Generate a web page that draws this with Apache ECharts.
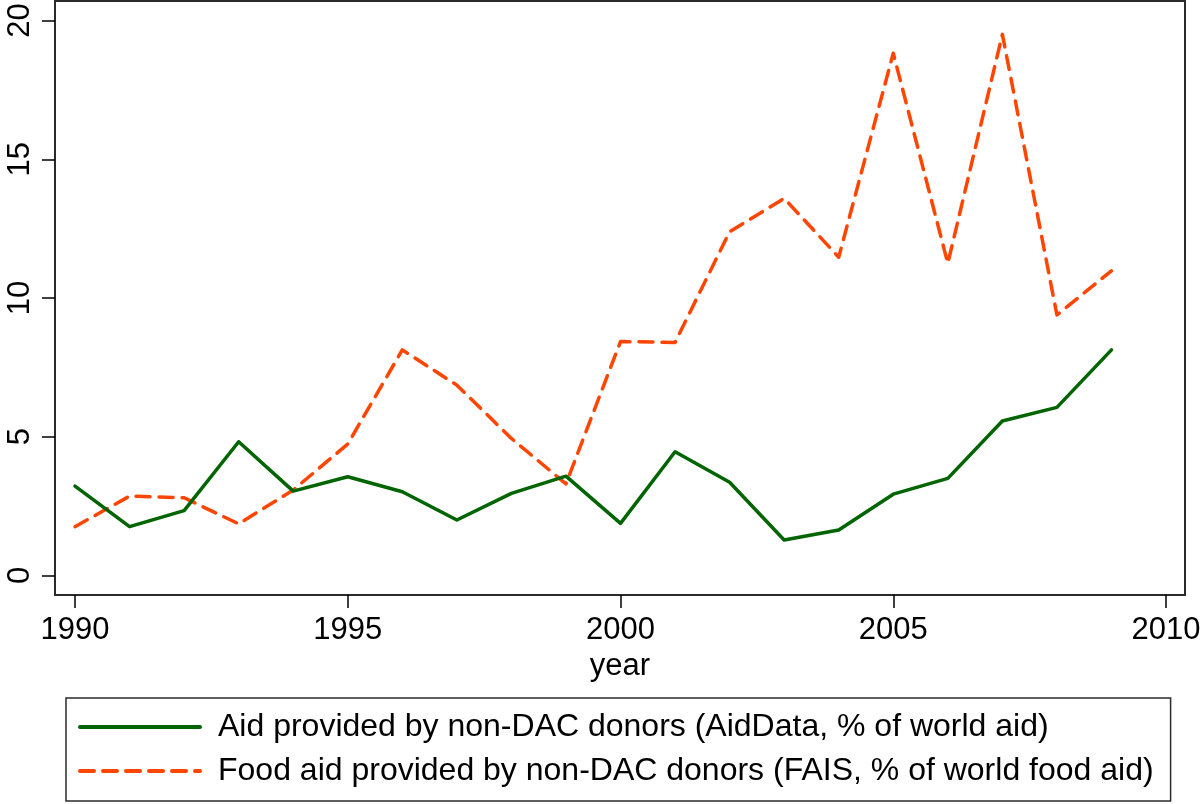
<!DOCTYPE html>
<html>
<head>
<meta charset="utf-8">
<title>Aid by non-DAC donors</title>
<script src="https://cdn.jsdelivr.net/npm/echarts@6/dist/echarts.min.js"></script>
<style>
  html, body { margin: 0; padding: 0; background: #ffffff; }
  #chart { width: 1204px; height: 804px; }
</style>
</head>
<body>
<div id="chart"></div>
<script>
// Share of aid from non-DAC donors, 1990-2009 (percent)
const years = [1990, 1991, 1992, 1993, 1994, 1995, 1996, 1997, 1998, 1999,
               2000, 2001, 2002, 2003, 2004, 2005, 2006, 2007, 2008, 2009];
const aidShare = [3.22, 1.76, 2.34, 4.82, 3.04, 3.56, 3.02, 2.00, 2.96, 3.58,
                  1.88, 4.46, 3.36, 1.28, 1.64, 2.93, 3.50, 5.57, 6.06, 8.13];
const foodAidShare = [1.76, 2.86, 2.80, 1.86, 3.08, 4.74, 8.13, 6.86, 4.94, 3.30,
                      8.43, 8.40, 12.39, 13.59, 11.47, 18.82, 11.25, 19.50, 9.39, 10.98];
const xTicks = [1990, 1995, 2000, 2005, 2010];
const yTicks = [0, 5, 10, 15, 20];
const seriesNames = [
  'Aid provided by non-DAC donors (AidData, % of world aid)',
  'Food aid provided by non-DAC donors (FAIS, % of world food aid)'
];

const FONT = '"Liberation Sans", Arial, Helvetica, sans-serif';
const INK = '#000000';
const FRAME = '#2b2b2b';

const chart = echarts.init(document.getElementById('chart'), null, { renderer: 'canvas' });

const pairs = (xs, ys) => xs.map((x, i) => [x, ys[i]]);

chart.setOption({
  animation: false,
  backgroundColor: '#ffffff',
  grid: {
    show: true,
    left: 55, right: 19, top: 1, bottom: 209,
    borderColor: FRAME,
    borderWidth: 2,
    backgroundColor: '#ffffff'
  },
  xAxis: {
    type: 'value',
    min: 1989.633,
    max: 2010.348,
    name: 'year',
    nameLocation: 'middle',
    nameGap: 46,
    nameTextStyle: { fontFamily: FONT, fontSize: 31, color: INK },
    axisLine: { show: false, onZero: false },
    splitLine: { show: false },
    axisTick: {
      show: true, length: 13, customValues: xTicks,
      lineStyle: { color: INK, width: 1.5 }
    },
    axisLabel: {
      show: true, customValues: xTicks, margin: 20,
      fontFamily: FONT, fontSize: 31, color: INK,
      formatter: v => String(v)
    }
  },
  yAxis: {
    type: 'value',
    min: -0.703,
    max: 20.703,
    axisLine: { show: false, onZero: false },
    splitLine: { show: false },
    axisTick: {
      show: true, length: 13, customValues: yTicks,
      lineStyle: { color: INK, width: 1.5 }
    },
    axisLabel: {
      show: true, customValues: yTicks, margin: 19, rotate: 90,
      fontFamily: FONT, fontSize: 31, color: INK,
      formatter: v => String(v)
    }
  },
  legend: {
    show: true,
    orient: 'vertical',
    left: 66,
    top: 698,
    padding: [13, 17, 14, 12],
    itemGap: 12,
    itemWidth: 120,
    itemHeight: 14,
    borderColor: FRAME,
    borderWidth: 1.5,
    backgroundColor: '#ffffff',
    itemStyle: { opacity: 0 },
    lineStyle: { width: 4 },
    textStyle: {
      fontFamily: FONT, fontSize: 32, color: INK,
      padding: [0, 0, 0, 13]
    },
    data: seriesNames
  },
  series: [
    {
      name: seriesNames[0],
      type: 'line',
      data: pairs(years, aidShare),
      symbol: 'none',
      showSymbol: false,
      lineStyle: { color: '#006400', width: 3.5, cap: 'round', join: 'round' },
      itemStyle: { color: '#006400' },
      z: 3
    },
    {
      name: seriesNames[1],
      type: 'line',
      data: pairs(years, foodAidShare),
      symbol: 'none',
      showSymbol: false,
      lineStyle: {
        color: '#FF4500', width: 3.5, type: [14, 9], cap: 'round', join: 'round'
      },
      itemStyle: { color: '#FF4500' },
      z: 2
    }
  ]
});
</script>
</body>
</html>
